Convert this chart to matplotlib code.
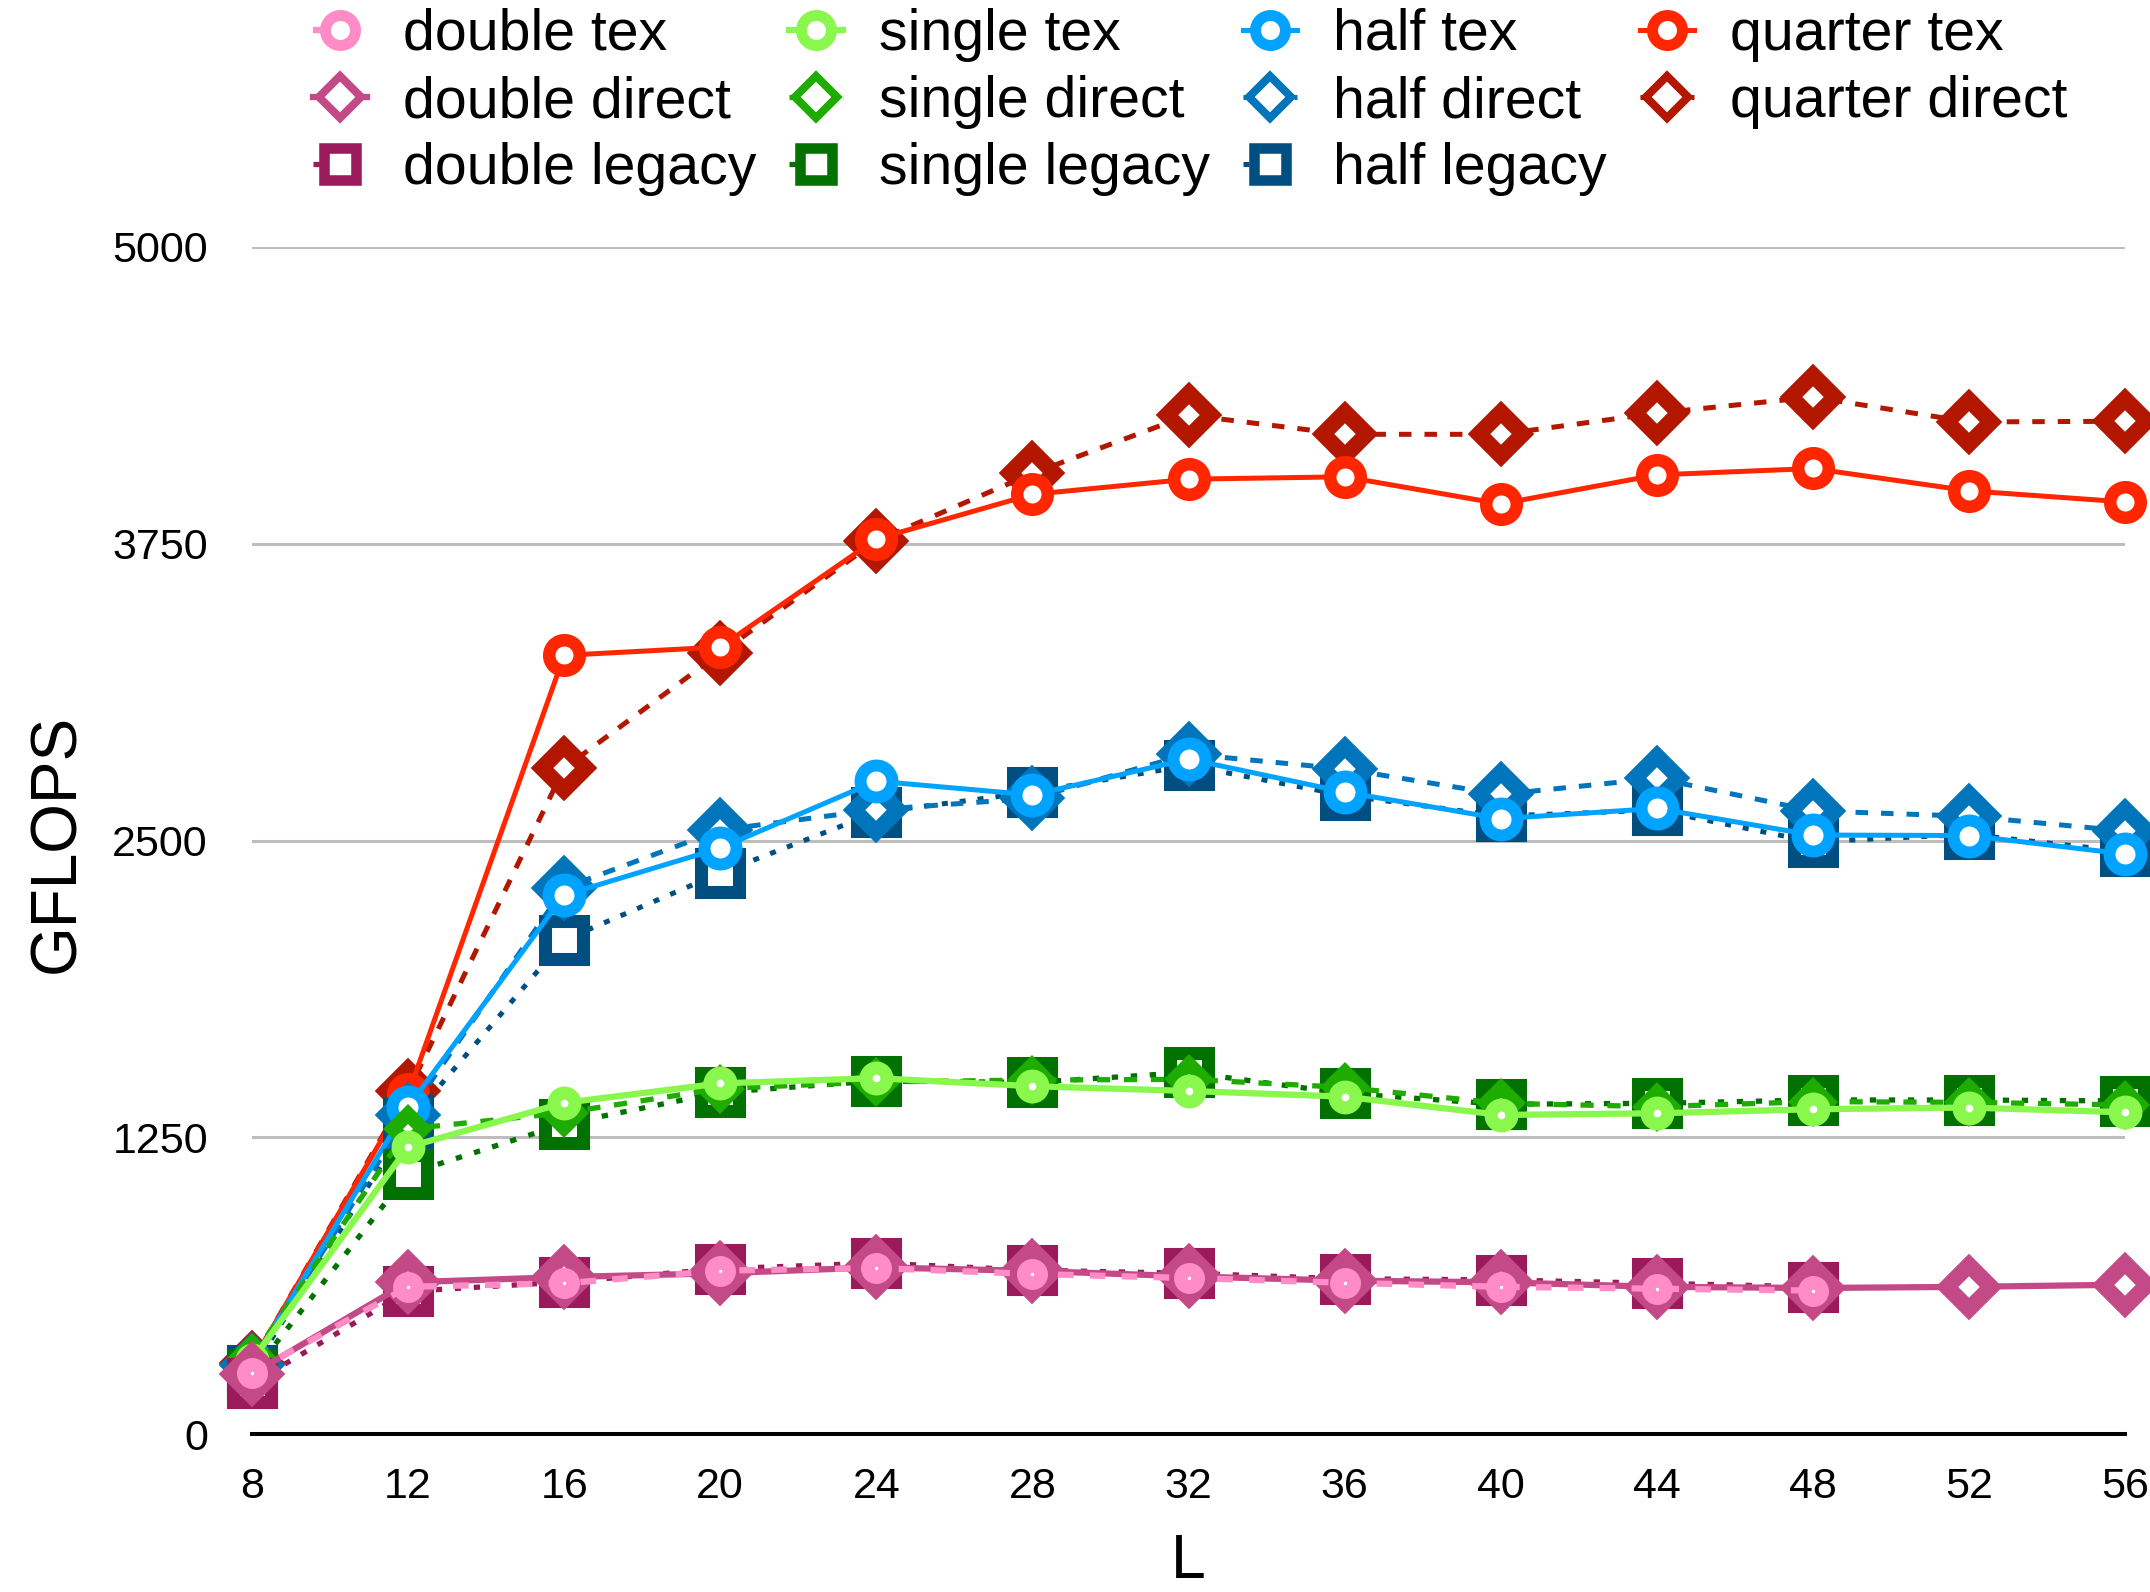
import matplotlib
matplotlib.use("Agg")
import matplotlib.pyplot as plt
from matplotlib.lines import Line2D

plt.rcParams['font.family'] = ['Liberation Sans', 'DejaVu Sans']

# Lattice sizes
L_all = [8, 12, 16, 20, 24, 28, 32, 36, 40, 44, 48, 52, 56]
L_double = [8, 12, 16, 20, 24, 28, 32, 36, 40, 44, 48]

# GFLOPS per precision and kernel variant
quarter_tex = [300, 1432, 3280, 3315, 3770, 3958, 4022, 4032, 3918, 4040, 4067, 3973, 3926]
quarter_direct = [300, 1443, 2805, 3290, 3762, 4046, 4292, 4211, 4211, 4300, 4368, 4263, 4266]

half_tex = [300, 1378, 2270, 2468, 2750, 2692, 2843, 2704, 2592, 2635, 2523, 2521, 2443]
half_direct = [290, 1345, 2300, 2544, 2630, 2678, 2864, 2801, 2694, 2762, 2625, 2602, 2540]
half_legacy = [270, 1310, 2081, 2363, 2618, 2704, 2816, 2690, 2603, 2628, 2494, 2526, 2454]

single_tex = [310, 1209, 1395, 1477, 1499, 1465, 1445, 1421, 1344, 1351, 1368, 1375, 1355]
single_direct = [320, 1285, 1353, 1455, 1483, 1491, 1494, 1460, 1393, 1379, 1400, 1397, 1386]
single_legacy = [253, 1096, 1306, 1439, 1487, 1481, 1523, 1435, 1389, 1393, 1407, 1407, 1403]

double_tex = [258, 620, 635, 688, 699, 674, 657, 637, 620, 612, 604]
double_direct = [253, 639, 661, 677, 702, 687, 664, 646, 639, 620, 615, 620, 629]
double_legacy = [213, 601, 640, 696, 720, 690, 677, 654, 649, 635, 620]

y_ticks = [0, 1250, 2500, 3750, 5000]

DASHED = (0, (2.5, 2.6))
DOTTED = (0, (1.2, 2.4))

# (label, x, y, color, linestyle, linewidth, marker, markersize, edgewidth)
series = [
    ("quarter direct", L_all, quarter_direct, "#b31700", DASHED, 3.6, "D", 22.7, 11.5),
    ("quarter tex", L_all, quarter_tex, "#ff2600", "-", 3.6, "o", 22.0, 9.0),
    ("half legacy", L_all, half_legacy, "#004f80", DOTTED, 3.6, "s", 27.4, 9.4),
    ("half direct", L_all, half_direct, "#0075bb", DASHED, 3.6, "D", 22.7, 11.5),
    ("half tex", L_all, half_tex, "#00a3ff", "-", 3.6, "o", 23.0, 8.6),
    ("single legacy", L_all, single_legacy, "#017101", DOTTED, 3.8, "s", 27.4, 9.4),
    ("single direct", L_all, single_direct, "#1fac00", DASHED, 3.8, "D", 15.3, 10.2),
    ("single tex", L_all, single_tex, "#8af74d", "-", 4.5, "o", 15.0, 9.4),
    ("double legacy", L_double, double_legacy, "#9a1a5c", DOTTED, 3.8, "s", 27.4, 9.4),
    ("double direct", L_all, double_direct, "#c44a87", "-", 4.5, "D", 22.7, 11.5),
    ("double tex", L_double, double_tex, "#ff8cc6", DASHED, 4.5, "o", 12.6, 9.7),
]

legend_order = [
    "double tex", "double direct", "double legacy",
    "single tex", "single direct", "single legacy",
    "half tex", "half direct", "half legacy",
    "quarter tex", "quarter direct",
]

fig = plt.figure(figsize=(21.5, 15.92), dpi=100)
ax = fig.add_axes([252 / 2150, 158 / 1592, (2125 - 252) / 2150, (1434 - 247) / 1592])

styles = {}
for label, xs, ys, color, ls, lw, mk, ms, mew in series:
    ax.plot(xs, ys, color=color, linestyle=ls, linewidth=lw, marker=mk,
            markersize=ms, markeredgewidth=mew, markeredgecolor=color,
            markerfacecolor="white", clip_on=False, zorder=3)
    styles[label] = (color, ls, lw, mk)

ax.set_xlim(8, 56)
ax.set_ylim(0, 5000)
ax.set_xticks(L_all)
ax.set_yticks(y_ticks)
ax.tick_params(axis="both", length=0, labelsize=31)
ax.tick_params(axis="x", pad=23.5)
ax.tick_params(axis="y", pad=31.7)

ax.yaxis.grid(True, color="#bdbdbd", linewidth=2.2)
ax.set_axisbelow(True)
for side in ("top", "right", "left"):
    ax.spines[side].set_visible(False)
ax.spines["bottom"].set_linewidth(2.9)
ax.spines["bottom"].set_color("black")
ax.spines["bottom"].set_zorder(2.5)

fig.text(57 / 2150, 1 - 843 / 1592, "GFLOPS", rotation=90, ha="center", va="center",
         fontsize=46)
fig.text(1188 / 2150, 14 / 1592, "L", ha="center", va="baseline", fontsize=45)

legend_marker = {"o": (21.6, 7.9), "D": (21.6, 5.8), "s": (22.7, 7.6)}
handles = []
for label in legend_order:
    color, ls, lw, mk = styles[label]
    ms, mew = legend_marker[mk]
    handles.append(Line2D([], [], color=color, linestyle=ls, linewidth=lw, marker=mk,
                          markersize=ms, markeredgewidth=mew, markeredgecolor=color,
                          markerfacecolor="white"))

fig.legend(handles, legend_order, ncol=4, loc="upper left",
           bbox_to_anchor=(313 / 2150, 1 - 8 / 1592), frameon=False, fontsize=41.2,
           handlelength=0.94, handletextpad=0.63, columnspacing=0.58,
           borderpad=0, borderaxespad=0, labelspacing=0.23)

fig.savefig("out.png", dpi=100)
